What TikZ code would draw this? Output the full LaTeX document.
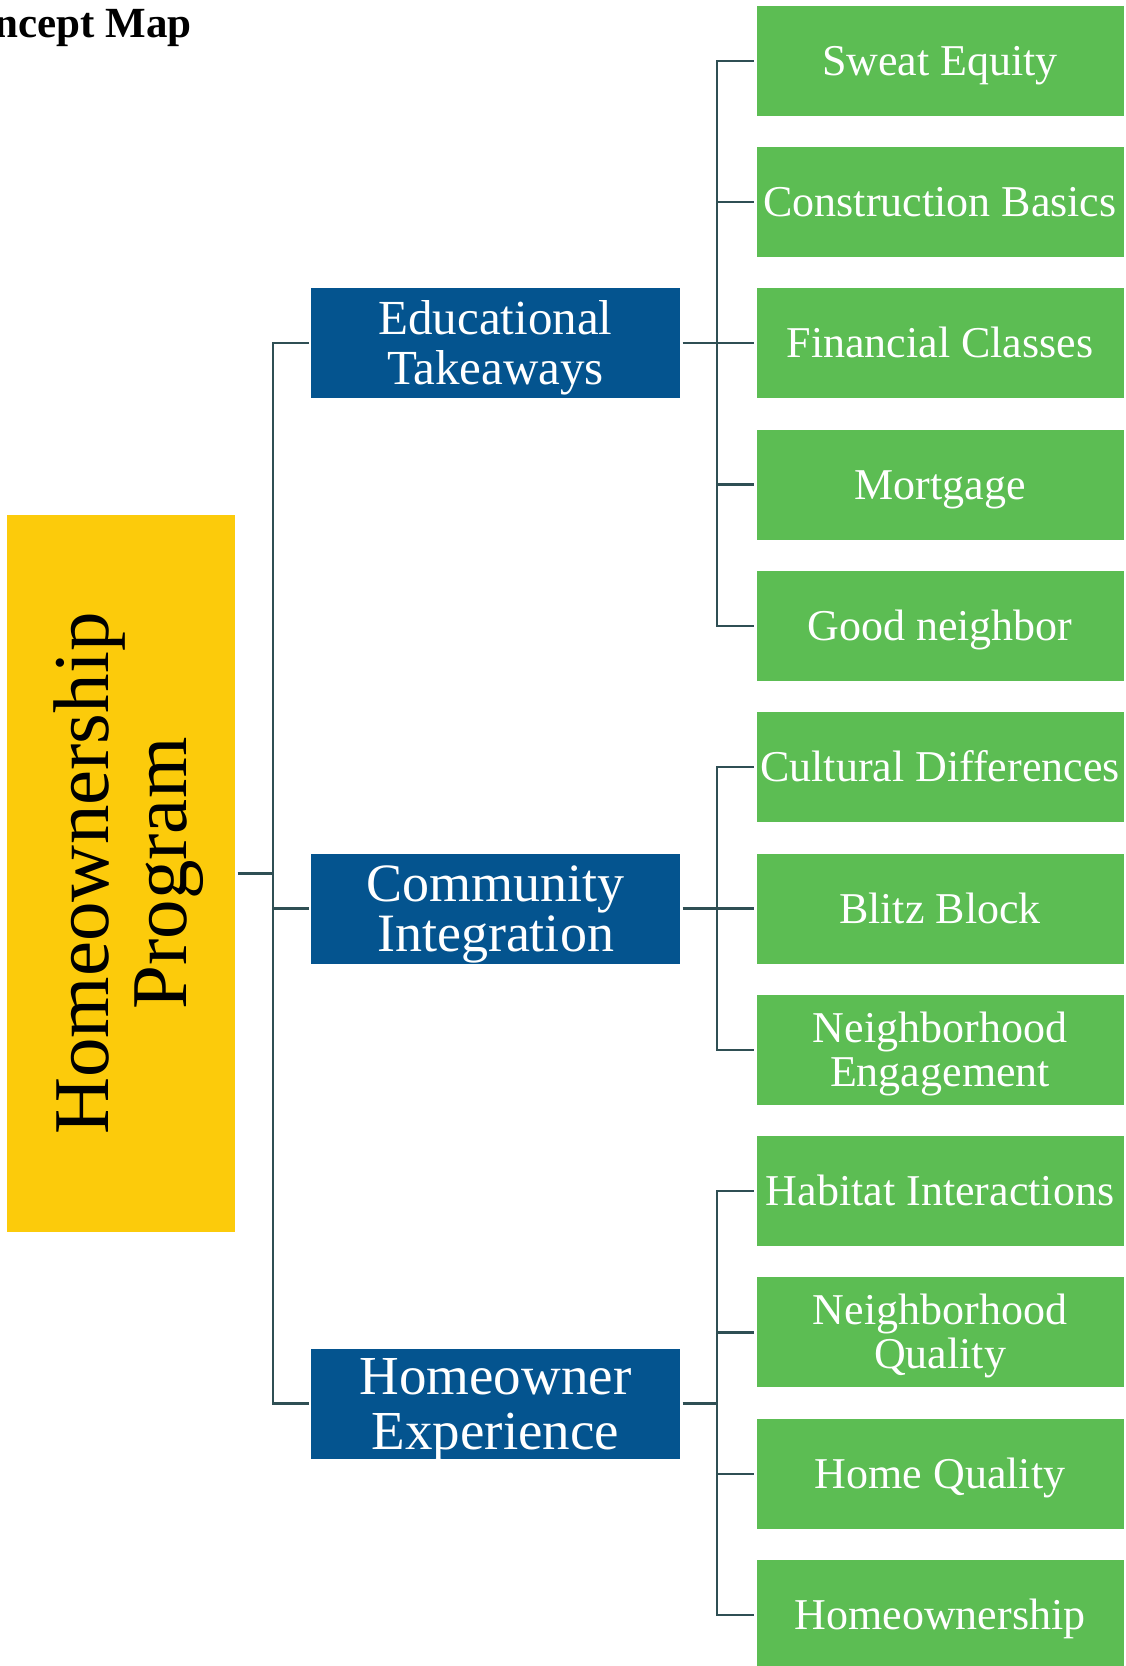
\documentclass[tikz,border=0pt]{standalone}
\usepackage{fontspec}
\setmainfont{Liberation Serif}
\definecolor{leafgreen}{RGB}{92,189,83}
\definecolor{branchblue}{RGB}{4,84,143}
\definecolor{rootyellow}{RGB}{252,203,11}
\definecolor{linkgray}{RGB}{47,79,84}
\begin{document}
\begin{tikzpicture}[x=1pt,y=-1pt,
  box/.style={rectangle, inner sep=0pt, outer sep=0pt, align=center},
  leaf/.style={box, fill=leafgreen, text=white, minimum width=367pt, minimum height=110pt,
    font=\fontsize{44}{44}\selectfont, text height=29pt, text depth=0pt},
  leaftwo/.style={leaf, text height=73pt},
  branch/.style={box, fill=branchblue, text=white, minimum width=369pt, minimum height=110pt,
    text depth=0pt},
  rootbox/.style={box, fill=rootyellow, text=black, minimum width=717pt, minimum height=228pt,
    rotate=90, font=\fontsize{79}{78}\selectfont, text height=130pt, text depth=0pt},
  link/.style={draw=linkgray, line width=2.3pt},
  tobox/.style={link, shorten >=2.5pt},
  frombox/.style={link, shorten <=2.5pt},
]
\fill[white] (0,0) rectangle (1125,1666);
\useasboundingbox (0,0) rectangle (1125,1666);
\clip (0,0) rectangle (1125,1666);

% title
\node[anchor=base east, font=\bfseries\fontsize{43}{43}\selectfont] (title) at (195,37) {Concept Map};

% root
\node[rootbox] (root) at (121,873.5) {Homeownership\\Program};

% second level
\node[branch, font=\fontsize{49}{50}\selectfont, text height=82.4pt]
  (edu) at (495.5,343.3) {Educational\\Takeaways};
\node[branch, font=\fontsize{54}{50}\selectfont, text height=85.7pt]
  (comm) at (495.5,908.5) {Community\\Integration};
\node[branch, font=\fontsize{55}{55}\selectfont, text height=91.4pt]
  (exper) at (495.5,1403.5) {Homeowner\\Experience};

% third level
\node[leaf]    (sweat)   at (940,60.7)   {Sweat Equity};
\node[leaf]    (constr)  at (940,202.0)  {Construction Basics};
\node[leaf]    (finance) at (940,343.3)  {Financial Classes};
\node[leaf]    (mortg)   at (940,484.6)  {Mortgage};
\node[leaf]    (goodn)   at (940,625.9)  {Good neighbor};
\node[leaf]    (cultur)  at (940,767.2)  {Cultural Differences};
\node[leaf]    (blitz)   at (940,908.5)  {Blitz Block};
\node[leaftwo] (engage)  at (940,1049.8) {Neighborhood\\Engagement};
\node[leaf]    (habit)   at (940,1191.1) {Habitat Interactions};
\node[leaftwo] (nqual)   at (940,1332.4) {Neighborhood\\Quality};
\node[leaf]    (hqual)   at (940,1473.7) {Home Quality};
\node[leaf]    (howner)  at (940,1615.0) {Homeownership};

% junction points of the bracket connectors
\coordinate (hubR) at ([xshift=38pt]root.south);
\coordinate (hubE) at ([xshift=37pt]edu.east);
\coordinate (hubC) at ([xshift=37pt]comm.east);
\coordinate (hubX) at ([xshift=37pt]exper.east);

% root to second level
\draw[frombox] (root.south) -- (hubR);
\foreach \n in {edu,comm,exper} \draw[tobox] (hubR) |- (\n.west);

% second level to leaves
\draw[frombox] (edu.east) -- (hubE);
\foreach \n in {sweat,constr,finance,mortg,goodn} \draw[tobox] (hubE) |- (\n.west);
\draw[frombox] (comm.east) -- (hubC);
\foreach \n in {cultur,blitz,engage} \draw[tobox] (hubC) |- (\n.west);
\draw[frombox] (exper.east) -- (hubX);
\foreach \n in {habit,nqual,hqual,howner} \draw[tobox] (hubX) |- (\n.west);
\end{tikzpicture}
\end{document}
